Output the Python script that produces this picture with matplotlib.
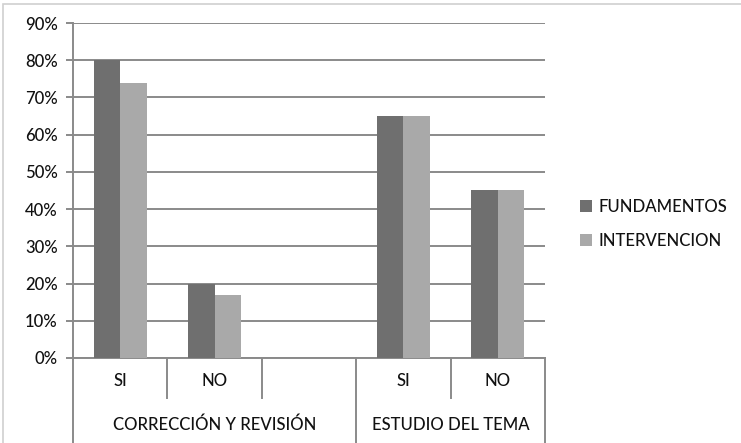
import matplotlib.pyplot as plt
import numpy as np
from matplotlib.patches import Rectangle

# datos
categorias = ['SI', 'NO', '', 'SI', 'NO']
grupos = ['CORRECCIÓN Y REVISIÓN', 'ESTUDIO DEL TEMA']
fundamentos = [80, 20, np.nan, 65, 45]
intervencion = [74, 17, np.nan, 65, 45]
yticks = [0, 10, 20, 30, 40, 50, 60, 70, 80, 90]

plt.rcParams['font.family'] = ['Lato', 'DejaVu Sans']
txt = '#111111'
linea = '#8a8a8a'
fs = 12

fig = plt.figure(figsize=(7.41, 4.43), dpi=100)
ax = fig.add_axes([0.0985, 0.192, 0.637, 0.756])

x = np.arange(len(categorias))
w = 0.28
ax.bar(x - w / 2, fundamentos, w, color='#6f6f6f', label='FUNDAMENTOS', zorder=3)
ax.bar(x + w / 2, intervencion, w, color='#a9a9a9', label='INTERVENCION', zorder=3)

ax.set_xlim(-0.5, 4.5)
ax.set_ylim(0, 90)
ax.set_yticks(yticks)
ax.set_yticklabels([f'{v}%' for v in yticks], fontsize=fs, color=txt, fontweight='medium')
ax.yaxis.grid(True, color=linea, linewidth=1.4, zorder=0)
ax.tick_params(axis='y', length=5, width=1.4, color=linea, pad=6)
ax.set_xticks([])
for s in ['top', 'right']:
    ax.spines[s].set_visible(False)
ax.spines['left'].set_color(linea)
ax.spines['left'].set_linewidth(1.4)
ax.spines['bottom'].set_color(linea)
ax.spines['bottom'].set_linewidth(1.4)

# eje de categorias en dos niveles
tr = ax.get_xaxis_transform()
for i, c in enumerate(categorias):
    ax.text(i, -0.068, c, transform=tr, ha='center', va='center', fontsize=fs,
            color=txt, fontweight='medium')
for b in [0.5, 1.5, 3.5]:
    ax.plot([b, b], [0, -0.12], transform=tr, color=linea, lw=1.4, clip_on=False)
for b in [-0.5, 2.5, 4.5]:
    ax.plot([b, b], [0, -0.26], transform=tr, color=linea, lw=1.4, clip_on=False)
ax.text(1.0, -0.2, grupos[0], transform=tr, ha='center', va='center', fontsize=fs,
        color=txt, fontweight='medium')
ax.text(3.5, -0.2, grupos[1], transform=tr, ha='center', va='center', fontsize=fs,
        color=txt, fontweight='medium')

leg = ax.legend(loc='center left', bbox_to_anchor=(1.06, 0.40), frameon=False,
                handlelength=0.7, handleheight=0.7, handletextpad=0.4,
                labelspacing=1.1, fontsize=fs, labelcolor=txt, borderaxespad=0)
for t in leg.get_texts():
    t.set_fontweight('medium')

# borde del grafico
fig.patches.append(Rectangle((0.004, -0.01), 1.2, 1.0, transform=fig.transFigure,
                             fill=False, edgecolor='#d0d0d0', lw=1.2))

fig.savefig('out.png', dpi=100)
